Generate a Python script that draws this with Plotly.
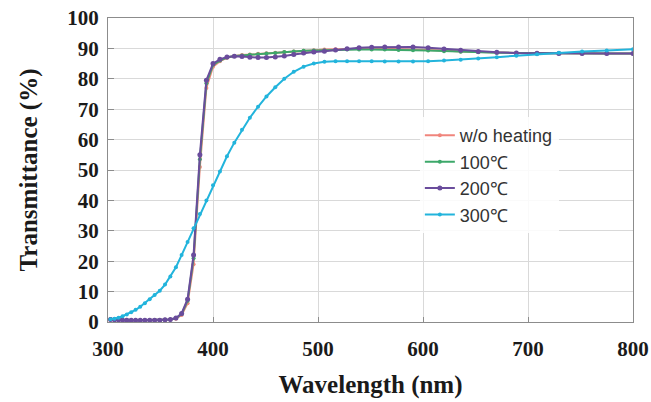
import plotly.graph_objects as go

wavelength = [302.4, 306.2, 310.0, 313.9, 317.9, 322.1, 326.3, 330.7, 335.1, 339.7,
              344.4, 349.3, 354.3, 359.4, 364.7, 370.1, 375.8, 381.5, 387.5, 393.7,
              400.0, 406.6, 413.3, 420.3, 427.6, 435.1, 442.9, 450.9, 459.3, 467.9,
              476.9, 486.3, 496.0, 506.1, 516.7, 527.7, 539.1, 551.1, 563.6, 576.7,
              590.5, 604.9, 620.0, 635.9, 652.6, 670.3, 688.9, 708.6, 729.4, 751.5,
              775.0, 800.0]

wo_heating = [0.9, 0.8, 0.7, 0.7, 0.7, 0.6, 0.6, 0.6, 0.6, 0.6,
              0.6, 0.6, 0.7, 0.8, 1.1, 2.3, 6.2, 19.0, 51.0, 77.0,
              84.0, 85.8, 86.9, 87.5, 87.8, 88.0, 88.2, 88.4, 88.6, 88.8,
              89.0, 89.2, 89.4, 89.6, 89.7, 89.8, 89.9, 89.9, 89.9, 89.8,
              89.7, 89.5, 89.3, 89.0, 88.8, 88.6, 88.5, 88.4, 88.3, 88.3,
              88.3, 88.3]

t100 = [0.9, 0.8, 0.7, 0.7, 0.6, 0.6, 0.6, 0.6, 0.6, 0.6,
        0.6, 0.6, 0.7, 0.8, 1.2, 2.6, 7.0, 21.0, 53.5, 78.5,
        84.6, 86.0, 87.0, 87.5, 87.7, 87.9, 88.1, 88.3, 88.5, 88.8,
        89.0, 89.2, 89.3, 89.4, 89.5, 89.6, 89.6, 89.6, 89.6, 89.5,
        89.4, 89.3, 89.1, 88.9, 88.7, 88.6, 88.5, 88.4, 88.3, 88.3,
        88.3, 88.3]

t200 = [0.8, 0.7, 0.7, 0.6, 0.6, 0.6, 0.6, 0.6, 0.6, 0.6,
        0.6, 0.6, 0.7, 0.8, 1.3, 2.8, 7.5, 22.0, 55.0, 79.5,
        85.0, 86.4, 87.2, 87.4, 87.3, 87.1, 87.0, 87.0, 87.2, 87.5,
        88.0, 88.5, 88.8, 89.1, 89.5, 89.9, 90.2, 90.4, 90.5, 90.5,
        90.5, 90.2, 89.8, 89.4, 89.0, 88.7, 88.5, 88.4, 88.3, 88.3,
        88.3, 88.3]

t300 = [0.9, 1.1, 1.4, 1.9, 2.5, 3.2, 4.0, 5.0, 6.2, 7.5,
        8.9, 10.3, 12.3, 15.0, 18.0, 22.0, 26.3, 30.8, 35.5, 40.0,
        45.0, 49.5, 54.5, 59.0, 63.2, 67.2, 70.8, 74.2, 77.2, 80.0,
        82.3, 84.0, 85.0, 85.6, 85.8, 85.8, 85.8, 85.8, 85.7, 85.7,
        85.7, 85.8, 86.0, 86.3, 86.7, 87.1, 87.6, 88.1, 88.6, 89.0,
        89.3, 89.7]

series_names = ["w/o heating", "100\u2103", "200\u2103", "300\u2103"]
series_values = [wo_heating, t100, t200, t300]
colors = ["#f0857c", "#3da86a", "#6a4c9c", "#22b4dc"]
marker_sizes = [4, 4, 5, 4]

x_ticks = [300, 400, 500, 600, 700, 800]
y_ticks = [0, 10, 20, 30, 40, 50, 60, 70, 80, 90, 100]

fig = go.Figure()
for name, vals, col, ms in zip(series_names, series_values, colors, marker_sizes):
    fig.add_trace(go.Scatter(
        x=wavelength, y=vals, name=name, mode="lines+markers",
        line=dict(color=col, width=2),
        marker=dict(color=col, size=ms, symbol="circle"),
        cliponaxis=True,
    ))

axis_font = dict(family="Liberation Serif", size=21, color="#1a1a1a", weight="bold")
title_font = dict(family="Liberation Serif", size=25, color="#1a1a1a", weight="bold")

fig.update_layout(
    width=651, height=402,
    margin=dict(l=108, r=18, t=18, b=80, autoexpand=False),
    paper_bgcolor="white", plot_bgcolor="white",
    showlegend=True,
    legend=dict(
        x=0.594, y=0.674, xanchor="left", yanchor="top",
        bgcolor="rgba(255,255,255,0.85)",
        font=dict(family="Liberation Sans", size=18, color="#333333"),
        tracegroupgap=0, itemwidth=30,
    ),
    xaxis=dict(
        range=[300, 800], tickvals=x_ticks, ticktext=[str(v) for v in x_ticks],
        showgrid=True, gridcolor="#d9d9d9", gridwidth=1,
        showline=True, linecolor="#8c8c8c", linewidth=1, mirror=True,
        ticks="inside", ticklen=5, tickcolor="#8c8c8c",
        tickfont=axis_font, ticklabelstandoff=8, automargin=False,
        title=dict(text="Wavelength (nm)", font=title_font, standoff=15),
        zeroline=False,
    ),
    yaxis=dict(
        range=[0, 100], tickvals=y_ticks, ticktext=[str(v) for v in y_ticks],
        showgrid=True, gridcolor="#d9d9d9", gridwidth=1,
        showline=True, linecolor="#8c8c8c", linewidth=1, mirror=True,
        ticks="inside", ticklen=6, tickcolor="#8c8c8c",
        tickfont=axis_font, ticklabelstandoff=4, automargin=False,
        title=dict(text="Transmittance (%)", font=title_font, standoff=22),
        zeroline=False,
    ),
)

fig.write_html(
    "out.html",
    config={"displayModeBar": False},
    post_script="document.body.style.margin='0';document.body.style.overflow='hidden';",
)
